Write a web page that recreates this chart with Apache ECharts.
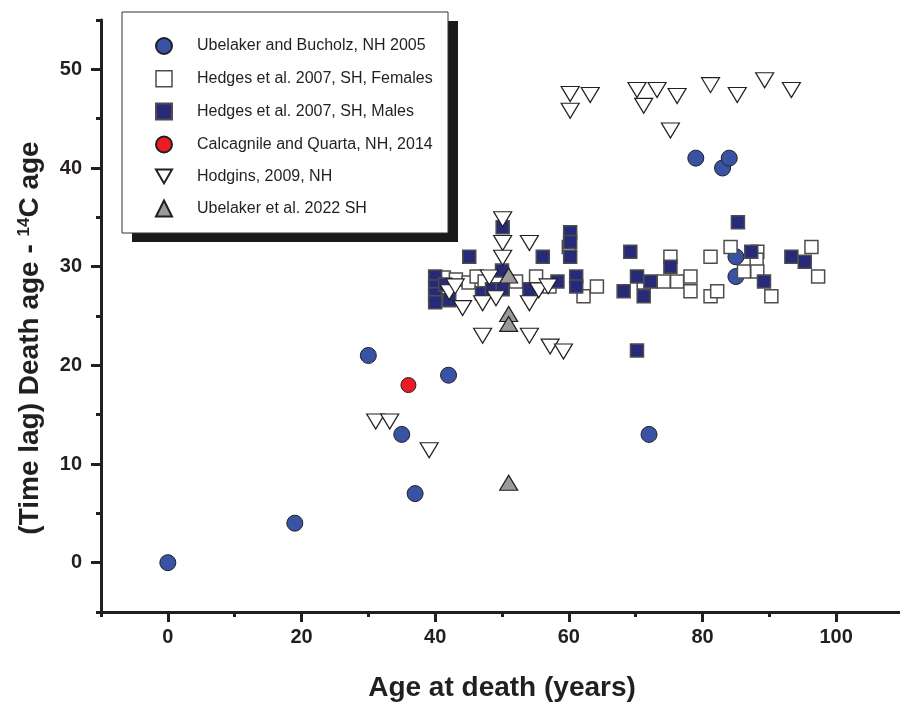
<!DOCTYPE html>
<html>
<head>
<meta charset="utf-8">
<script src="https://cdn.jsdelivr.net/npm/echarts@6/dist/echarts.min.js"></script>
<style>
  html, body { margin: 0; padding: 0; background: #fff; }
  #chart { width: 900px; height: 702px; }
</style>
</head>
<body>
<div id="chart"></div>
<script>
// [age at death, time lag] pairs
const ubelakerBucholz = [[0, 0], [19, 4], [30, 21], [35, 13], [37, 7], [42, 19], [72, 13], [79, 41], [83, 40], [84, 41], [85, 31], [85, 29]]
const hedgesFemales = [[41.3, 28.9], [43.1, 28.7], [45, 28.4], [46.2, 29], [47.4, 28.5], [52.1, 28.5], [55.1, 29], [57.1, 28],
  [60, 32], [62.2, 27], [64.2, 28], [71.2, 28.4], [74.2, 28.5], [75.2, 31], [76.2, 28.5], [78.2, 29], [78.2, 27.5],
  [81.2, 31], [81.2, 27], [82.2, 27.5], [84.2, 32], [86.2, 29.5], [88.2, 31.5], [88.1, 30.7], [88.2, 29.5], [90.3, 27],
  [96.3, 32], [97.3, 29]]
const hedgesMales = [[40, 29], [40, 28], [40, 27.2], [40, 26.4], [41.5, 28.2], [42.1, 26.6], [45.1, 31], [47, 27.3],
  [48.5, 27.7], [50.1, 34], [50, 29.6], [50.1, 27.7], [54.1, 27.7], [56.1, 31], [58.3, 28.5], [60.2, 33.5], [60.2, 32.5],
  [60.2, 31], [61.1, 29], [61.1, 28], [68.2, 27.5], [69.2, 31.5], [70.2, 29], [70.2, 21.5], [71.2, 27], [72.2, 28.5],
  [75.2, 30], [85.3, 34.5], [87.3, 31.5], [89.2, 28.5], [93.3, 31], [95.3, 30.5]]
const calcagnileQuarta = [[36, 18]]
const hodgins = [[31.1, 14.3], [33.2, 14.3], [39.1, 11.4], [42.1, 27.4], [43, 28], [44.1, 25.8], [47.1, 26.3], [47.1, 23],
  [48.1, 28.9], [49.1, 26.8], [50.1, 34.8], [50.1, 32.4], [50.1, 30.9], [54.1, 32.4], [54.1, 26.3], [54.1, 23],
  [55.5, 27.6], [56.9, 28], [57.2, 21.9], [59.2, 21.4], [60.2, 47.5], [60.2, 45.8], [63.2, 47.4], [70.2, 47.9],
  [71.2, 46.3], [73.2, 47.9], [75.2, 43.8], [76.2, 47.3], [81.2, 48.4], [85.2, 47.4], [89.3, 48.9], [93.3, 47.9]]
const ubelaker2022 = [[51, 29.1], [51, 25.2], [51, 24.2], [51, 8.1]]

const seriesNames = ['Ubelaker and Bucholz, NH 2005', 'Hedges et al. 2007, SH, Females', 'Hedges et al. 2007, SH, Males',
  'Calcagnile and Quarta, NH, 2014', 'Hodgins, 2009, NH', 'Ubelaker et al. 2022 SH']

const xMajorTicks = [0, 20, 40, 60, 80, 100]
const xMinorTicks = [-10, 10, 30, 50, 70, 90]
const yMajorTicks = [0, 10, 20, 30, 40, 50]
const yMinorTicks = [-5, 5, 15, 25, 35, 45, 55]

const ink = '#231f20'
const font = "'Liberation Sans', Arial, sans-serif"
const downTri = 'path://M0,0L10,0L5,8.6Z'

const chart = echarts.init(document.getElementById('chart'), null, { renderer: 'canvas' })

const grid = { left: 101, top: 20, width: 802, height: 592, outerBoundsMode: 'none', containLabel: false }

function xAx(ticks, len, labels) {
  return {
    type: 'value', min: -10, max: 110, position: 'bottom',
    axisLine: { show: labels, onZero: false, lineStyle: { color: ink, width: 3 } },
    axisTick: { show: true, inside: false, length: len, customValues: ticks, lineStyle: { color: ink, width: 3 } },
    axisLabel: labels ? { show: true, customValues: ticks, margin: 15, color: ink, fontFamily: font, fontWeight: 'bold', fontSize: 20 } : { show: false },
    splitLine: { show: false },
    name: labels ? 'Age at death (years)' : '',
    nameLocation: 'middle', nameGap: 62,
    nameTextStyle: { color: ink, fontFamily: font, fontWeight: 'bold', fontSize: 28 }
  }
}

function yAx(ticks, len, labels) {
  return {
    type: 'value', min: -5, max: 55, position: 'left',
    axisLine: { show: labels, onZero: false, lineStyle: { color: ink, width: 3 } },
    axisTick: { show: true, inside: false, length: len, customValues: ticks, lineStyle: { color: ink, width: 3 } },
    axisLabel: labels ? { show: true, customValues: ticks, margin: 19, color: ink, fontFamily: font, fontWeight: 'bold', fontSize: 20 } : { show: false },
    splitLine: { show: false },
    name: labels ? '(Time lag) Death age - {sup|14}C age' : '',
    nameLocation: 'middle', nameGap: 57,
    nameTextStyle: {
      color: ink, fontFamily: font, fontWeight: 'bold', fontSize: 28, padding: [0, 44, 0, 0],
      rich: { sup: { color: ink, fontFamily: font, fontWeight: 'bold', fontSize: 17, verticalAlign: 'top' } }
    }
  }
}

chart.setOption({
  animation: false,
  grid: grid,
  // legend frame with its drop shadow
  graphic: [
    { type: 'rect', z: 1, shape: { x: 132, y: 21, width: 326, height: 221 }, style: { fill: '#1a1a1a' } },
    { type: 'rect', z: 1, shape: { x: 122, y: 12, width: 326, height: 221 }, style: { fill: '#fff', stroke: '#333', lineWidth: 1 } }
  ],
  xAxis: [xAx(xMajorTicks, 10, true), xAx(xMinorTicks, 5, false)],
  yAxis: [yAx(yMajorTicks, 10, true), yAx(yMinorTicks, 5, false)],
  legend: {
    orient: 'vertical', left: 155, top: 37, padding: 0,
    itemGap: 15, itemWidth: 16, itemHeight: 16,
    textStyle: { color: ink, fontFamily: font, fontSize: 16, padding: [0, 0, 0, 20] },
    data: [
      { name: seriesNames[0], icon: 'circle' },
      { name: seriesNames[1], icon: 'rect', itemStyle: { borderWidth: 1.5 } },
      { name: seriesNames[2], icon: 'rect' },
      { name: seriesNames[3], icon: 'circle' },
      { name: seriesNames[4], icon: downTri },
      { name: seriesNames[5], icon: 'triangle' }
    ]
  },
  series: [
    { name: seriesNames[0], type: 'scatter', data: ubelakerBucholz, symbol: 'circle', symbolSize: 16,
      itemStyle: { color: '#3953a4', borderColor: ink, borderWidth: 1, opacity: 1 } },
    { name: seriesNames[1], type: 'scatter', data: hedgesFemales, symbol: 'rect', symbolSize: 13,
      itemStyle: { color: '#ffffff', borderColor: '#4d4d4d', borderWidth: 1.5, opacity: 1 } },
    { name: seriesNames[2], type: 'scatter', data: hedgesMales, symbol: 'rect', symbolSize: 13,
      itemStyle: { color: '#262a78', borderColor: '#4d4d4d', borderWidth: 1.5, opacity: 1 } },
    { name: seriesNames[3], type: 'scatter', data: calcagnileQuarta, symbol: 'circle', symbolSize: 15,
      itemStyle: { color: '#ed1c24', borderColor: ink, borderWidth: 1, opacity: 1 } },
    { name: seriesNames[4], type: 'scatter', data: hodgins, symbol: downTri, symbolSize: [18, 15],
      itemStyle: { color: '#ffffff', borderColor: ink, borderWidth: 1.2, opacity: 1 } },
    { name: seriesNames[5], type: 'scatter', data: ubelaker2022, symbol: 'triangle', symbolSize: [18, 15],
      itemStyle: { color: '#9a9a9a', borderColor: ink, borderWidth: 1.2, opacity: 1 } }
  ]
})
</script>
</body>
</html>
